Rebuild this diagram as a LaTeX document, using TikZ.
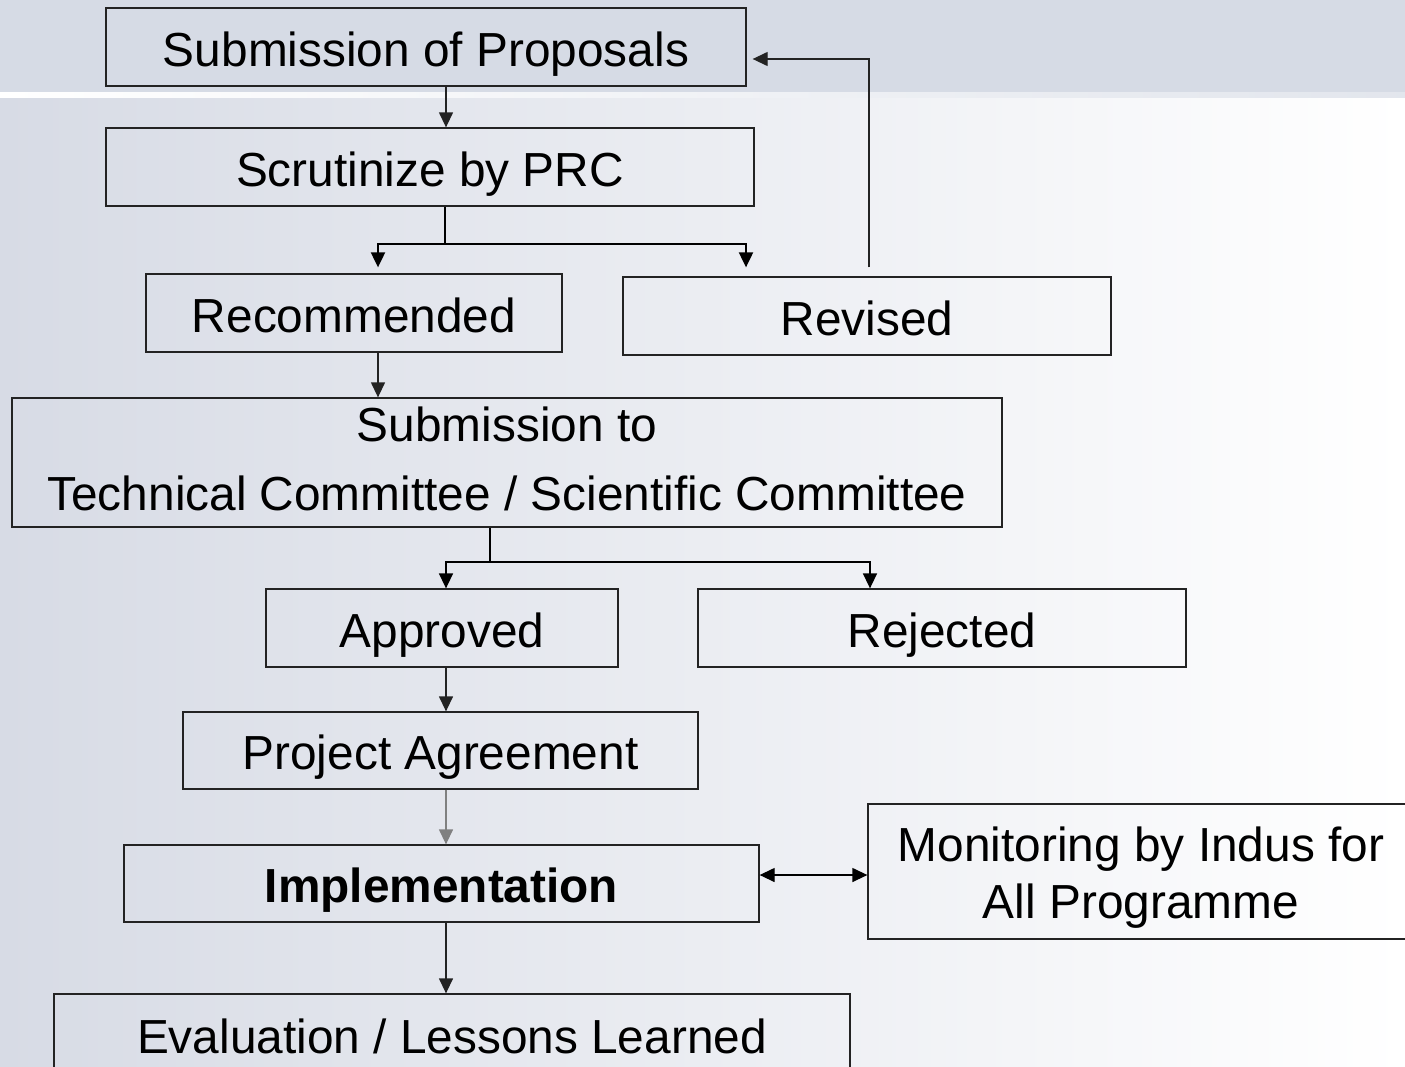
\documentclass[tikz,border=0pt]{standalone}
\usepackage{fontspec}
\setmainfont{Liberation Sans}
\usetikzlibrary{arrows.meta,calc}

\definecolor{bandblue}{RGB}{214,219,229}
\definecolor{paleblue}{RGB}{215,219,229}
\definecolor{edgegray}{RGB}{35,35,35}

\tikzset{
    box/.style={draw=edgegray, line width=1.3pt, inner sep=0pt, align=center,
                font=\fontsize{47.8}{57.4}\selectfont, text height=38pt, text depth=0pt},
    arr/.style={draw=edgegray, line width=1.3pt, -{Triangle[length=15pt,width=14pt]}},
    branch/.style={draw=black, line width=2pt},
}

\begin{document}
\begin{tikzpicture}[x=1pt,y=-1pt]
    % Background: top band and soft left-to-right fade
    \useasboundingbox (0,0) rectangle (1405,1066);
    \fill[left color=paleblue, right color=white] (0,96) rectangle (1405,1066);
    \fill[bandblue] (0,0) rectangle (1405,92);
    \fill[left color=white, right color=bandblue!70] (0,92) rectangle (1405,97);

    % Boxes (centres and sizes in pixels of the slide)
    \node[box, minimum width=640pt, minimum height=78pt] (sub) at (426,47) {Submission of Proposals};
    \node[box, minimum width=648pt, minimum height=78pt] (prc) at (430,167) {Scrutinize by PRC};
    \node[box, minimum width=416pt, minimum height=78pt] (rec) at (354,313) {Recommended};
    \node[box, minimum width=488pt, minimum height=78pt] (rev) at (867,316) {Revised};
    \node[box, minimum width=990pt, minimum height=129pt, text height=96pt] (tc) at (507,462.5)
        {Submission to\\[12pt] Technical Committee / Scientific Committee};
    \node[box, minimum width=352pt, minimum height=78pt] (app) at (442,628) {Approved};
    \node[box, minimum width=488pt, minimum height=78pt] (rej) at (942,628) {Rejected};
    \node[box, minimum width=515pt, minimum height=77pt] (pa) at (440.5,750.5) {Project Agreement};
    \node[box, minimum width=635pt, minimum height=77pt] (imp) at (441.5,883.5) {\bfseries Implementation};
    \node[box, minimum width=546pt, minimum height=135pt, text height=94pt] (mon) at (1141,871.5)
        {Monitoring by Indus for\\All Programme};
    \node[box, minimum width=796pt, minimum height=80pt] (eval) at (452,1034) {Evaluation / Lessons Learned};

    % Main axis and split points
    \coordinate (axis) at (446,0);
    \coordinate (split1) at (445,244);
    \coordinate (split2) at (490,562);

    % Proposal to PRC
    \draw[arr] (sub.south -| axis) -- (prc.north -| axis);

    % PRC splits into recommended / revised
    \draw[branch] (prc.south -| split1) -- (split1);
    \draw[branch, -{Triangle[length=15pt,width=14pt]}] (split1) -| ($(rec.north)+(24,-6)$);
    \draw[branch, -{Triangle[length=15pt,width=14pt]}] (split1) -| ($(rev.north)+(-121,-9)$);

    % Revised goes back to submission
    \draw[arr] ($(rev.north)+(2,-9)$) |- ($(sub.east)+(6,12)$);

    % Recommended to committees
    \draw[arr] ($(rec.south)+(24,0)$) -- ($(tc.north)+(-129,0)$);

    % Committees split into approved / rejected
    \draw[line width=1.5pt] (tc.south -| split2) -- (split2);
    \draw[line width=1.5pt, -{Triangle[length=15pt,width=14pt]}] (split2) -| (app.north -| axis);
    \draw[line width=1.5pt, -{Triangle[length=15pt,width=14pt]}] (split2) -| ($(rej.north)+(-72,0)$);

    % Down to agreement, implementation and evaluation
    \draw[arr] (app.south -| axis) -- (pa.north -| axis);
    \draw[arr, draw=gray] (pa.south -| axis) -- (imp.north -| axis);
    \draw[arr] (imp.south -| axis) -- (eval.north -| axis);

    % Implementation <-> monitoring
    \draw[line width=1.3pt, {Triangle[length=15pt,width=14pt]}-{Triangle[length=15pt,width=14pt]}]
        ($(imp.east)+(0,-8.5)$) -- ($(mon.west)+(0,3.5)$);
\end{tikzpicture}
\end{document}
